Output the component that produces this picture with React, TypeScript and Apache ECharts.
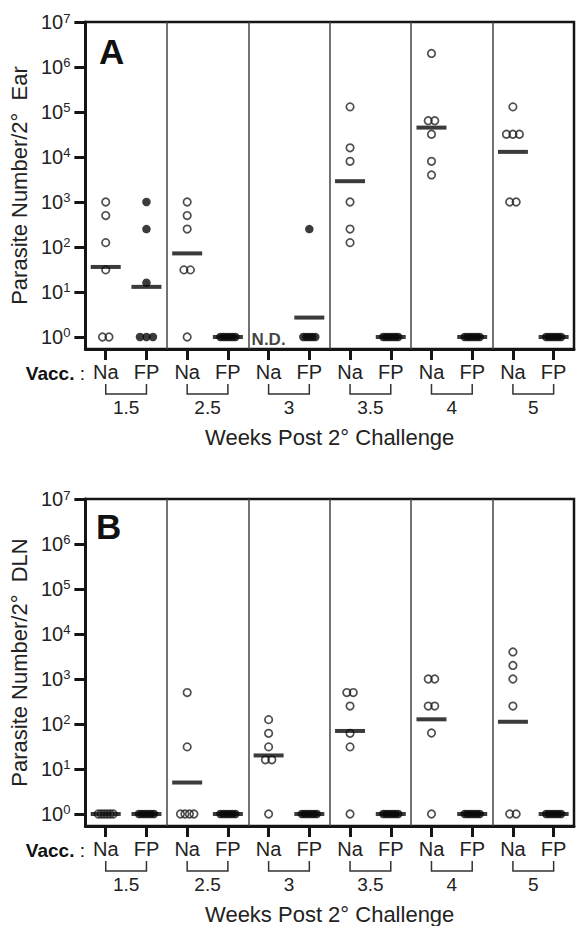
import React, { useEffect, useRef } from "react";
import * as echarts from "echarts";

// ---------- data ----------
const weeks = ["1.5", "2.5", "3", "3.5", "4", "5"];
const vaccLabels = ["Na", "FP"];
const yTickExponents = [0, 1, 2, 3, 4, 5, 6, 7];

// Panel A: parasite number per 2° ear (Na = naive, FP = vaccinated)
const earNa: number[][] = [
  [1000, 500, 125, 31, 1, 1],
  [1000, 500, 250, 31, 31, 1],
  [], // N.D.
  [130000, 16000, 8000, 1000, 250, 125],
  [2000000, 64000, 64000, 32000, 8000, 4000],
  [130000, 32000, 32000, 32000, 1000, 1000],
];
const earFP: number[][] = [
  [1000, 250, 16, 1, 1, 1],
  [1, 1, 1, 1, 1, 1],
  [250, 1, 1, 1, 1, 1],
  [1, 1, 1, 1, 1, 1],
  [1, 1, 1, 1, 1, 1],
  [1, 1, 1, 1, 1, 1],
];
const earNaMean: (number | null)[] = [36, 72, null, 2900, 45000, 13000];
const earFPMean: number[] = [13, 1, 2.7, 1, 1, 1];

// Panel B: parasite number per 2° DLN
const dlnNa: number[][] = [
  [1, 1, 1, 1, 1, 1],
  [500, 31, 1, 1, 1, 1],
  [125, 62, 31, 16, 16, 1],
  [500, 500, 250, 62, 31, 1],
  [1000, 1000, 250, 250, 63, 1],
  [4000, 2000, 1000, 250, 1, 1],
];
const dlnFP: number[][] = [
  [1, 1, 1, 1, 1, 1],
  [1, 1, 1, 1, 1, 1],
  [1, 1, 1, 1, 1, 1],
  [1, 1, 1, 1, 1, 1],
  [1, 1, 1, 1, 1, 1],
  [1, 1, 1, 1, 1, 1],
];
const dlnNaMean: number[] = [1, 5, 20, 70, 127, 112];
const dlnFPMean: number[] = [1, 1, 1, 1, 1, 1];

// ---------- layout / style ----------
const FONT = "'Liberation Sans', Arial, Helvetica, sans-serif";
const GRID_LEFT = 84;
const GRID_W = 490;
const GRID_H = 327;
const GRID_TOPS = [22, 499];
const Y_MIN = -0.267;
const Y_MAX = 7;
const PX_PER_UNIT = GRID_W / 12;
const INK = "#151515";

function spread(vals: number[], center: number): number[][] {
  const counts = new Map<number, number>();
  vals.forEach((v) => counts.set(v, (counts.get(v) || 0) + 1));
  const seen = new Map<number, number>();
  return vals.map((v) => {
    const n = counts.get(v)!;
    const k = seen.get(v) || 0;
    seen.set(v, k + 1);
    const step = n >= 5 ? 3 : n === 4 ? 4.5 : n > 1 ? 6.5 : 0;
    const off = (k - (n - 1) / 2) * step;
    return [center + off / PX_PER_UNIT, Math.log10(v)];
  });
}

function buildPanel(
  gi: number,
  na: number[][],
  fp: number[][],
  naMean: (number | null)[],
  fpMean: number[],
  yTitle: string,
  showND: boolean
) {
  const valAxis = gi * 2 + 1;
  const naPts: number[][] = [];
  const fpPts: number[][] = [];
  const means: number[][] = [];
  weeks.forEach((_, i) => {
    naPts.push(...spread(na[i], 2 * i + 0.5));
    fpPts.push(...spread(fp[i], 2 * i + 1.5));
    const nm = naMean[i];
    if (nm != null) means.push([2 * i + 0.5, Math.log10(nm)]);
    means.push([2 * i + 1.5, Math.log10(fpMean[i])]);
  });

  const xAxes = [
    {
      gridIndex: gi,
      type: "category",
      data: weeks.flatMap(() => vaccLabels),
      boundaryGap: true,
      position: "bottom",
      axisLine: { show: true, onZero: false, lineStyle: { color: INK, width: 3 } },
      axisTick: { show: true, alignWithLabel: true, length: 11, lineStyle: { color: INK, width: 3 } },
      axisLabel: { interval: 0, fontSize: 20, fontFamily: FONT, color: "#222", margin: 13 },
      splitLine: { show: false },
      name: "Weeks Post 2° Challenge",
      nameLocation: "middle",
      nameGap: 77,
      nameTextStyle: { fontSize: 22, fontFamily: FONT, color: "#222" },
      z: 1,
    },
    { gridIndex: gi, type: "value", min: 0, max: 12, show: false },
  ];

  const yAxis = {
    gridIndex: gi,
    type: "value",
    min: Y_MIN,
    max: Y_MAX,
    axisLine: { show: true, onZero: false, lineStyle: { color: INK, width: 3 } },
    axisTick: { show: true, customValues: yTickExponents, length: 11, lineStyle: { color: INK, width: 3 } },
    axisLabel: {
      customValues: yTickExponents,
      margin: 15,
      formatter: (v: number) => `{b|10}{s|${Math.round(v)}}`,
      rich: {
        b: { fontSize: 20, fontFamily: FONT, color: "#222", lineHeight: 21 },
        s: { fontSize: 13, fontFamily: FONT, color: "#222", lineHeight: 13, verticalAlign: "top" },
      },
    },
    splitLine: { show: false },
    name: yTitle,
    nameLocation: "middle",
    nameGap: 53,
    nameRotate: 90,
    nameTextStyle: { fontSize: 22, fontFamily: FONT, color: "#222" },
  };

  const series: any[] = [
    {
      type: "scatter",
      xAxisIndex: valAxis,
      yAxisIndex: gi,
      data: naPts,
      symbol: "circle",
      symbolSize: 7.5,
      itemStyle: { color: "rgba(0,0,0,0)", borderColor: "#222", borderWidth: 1.7 },
      z: 3,
      silent: true,
      markLine: {
        silent: true,
        symbol: ["none", "none"],
        label: { show: false },
        lineStyle: { color: "#444", width: 1.5, type: "solid" },
        data: [2, 4, 6, 8, 10].map((x) => ({ xAxis: x })),
      },
    },
    {
      type: "scatter",
      xAxisIndex: valAxis,
      yAxisIndex: gi,
      data: fpPts,
      symbol: "circle",
      symbolSize: 8.5,
      itemStyle: { color: "#0a0a0a" },
      z: 3,
      silent: true,
    },
    {
      type: "scatter",
      xAxisIndex: valAxis,
      yAxisIndex: gi,
      data: means,
      symbol: "rect",
      symbolSize: [30, 4],
      itemStyle: { color: "#0a0a0a" },
      z: 4,
      silent: true,
    },
    {
      type: "custom",
      xAxisIndex: valAxis,
      yAxisIndex: gi,
      clip: false,
      silent: true,
      data: weeks.map((_, i) => [2 * i + 1, Y_MIN]),
      renderItem: (params: any, api: any) => {
        const i = params.dataIndex;
        const p1 = api.coord([2 * i + 0.5, Y_MIN]);
        const p2 = api.coord([2 * i + 1.5, Y_MIN]);
        const yb = p1[1];
        return {
          type: "group",
          children: [
            {
              type: "polyline",
              shape: {
                points: [
                  [p1[0], yb + 35],
                  [p1[0], yb + 45],
                  [p2[0], yb + 45],
                  [p2[0], yb + 35],
                ],
              },
              style: { stroke: "#333", lineWidth: 1.5, fill: null },
            },
            {
              type: "text",
              style: {
                text: weeks[i],
                x: (p1[0] + p2[0]) / 2,
                y: yb + 58,
                align: "center",
                verticalAlign: "middle",
                fontSize: 19,
                fontFamily: FONT,
                fill: "#222",
              },
            },
          ],
        };
      },
    },
  ];

  if (showND) {
    series.push({
      type: "scatter",
      xAxisIndex: valAxis,
      yAxisIndex: gi,
      data: [[4.5, 0]],
      symbolSize: 1,
      itemStyle: { color: "rgba(0,0,0,0)" },
      silent: true,
      z: 5,
      label: {
        show: true,
        position: "inside",
        formatter: "N.D.",
        fontSize: 17,
        fontWeight: "bold",
        fontFamily: FONT,
        color: "#111",
        offset: [0, 3],
      },
    });
  }

  return { xAxes, yAxis, series };
}

export default function App() {
  const ref = useRef<HTMLDivElement>(null);
  useEffect(() => {
    document.body.style.margin = "0";
    if (!ref.current) return;
    const chart = echarts.init(ref.current, undefined, { renderer: "svg" });
    const pA = buildPanel(0, earNa, earFP, earNaMean, earFPMean, "Parasite Number/2°  Ear", true);
    const pB = buildPanel(1, dlnNa, dlnFP, dlnNaMean, dlnFPMean, "Parasite Number/2°  DLN", false);
    const vaccText = (y: number) => ({
      type: "text",
      x: 85,
      y,
      style: {
        text: "{b|Vacc.}{n| :}",
        align: "right",
        verticalAlign: "middle",
        rich: {
          b: { fontSize: 19, fontWeight: "bold", fontFamily: FONT, fill: "#111" },
          n: { fontSize: 19, fontFamily: FONT, fill: "#111" },
        },
      },
    });
    chart.setOption({
      animation: false,
      backgroundColor: "#fff",
      textStyle: { fontFamily: FONT },
      grid: GRID_TOPS.map((top) => ({
        left: GRID_LEFT,
        top,
        width: GRID_W,
        height: GRID_H,
        show: true,
        borderColor: INK,
        borderWidth: 2.5,
        backgroundColor: "transparent",
      })),
      xAxis: [...pA.xAxes, ...pB.xAxes],
      yAxis: [pA.yAxis, pB.yAxis],
      series: [...pA.series, ...pB.series],
      graphic: [
        {
          type: "text",
          x: 99,
          y: 51,
          style: { text: "A", fontSize: 35, fontWeight: "bold", fontFamily: FONT, fill: "#111", verticalAlign: "middle" },
        },
        {
          type: "text",
          x: 96,
          y: 526,
          style: { text: "B", fontSize: 35, fontWeight: "bold", fontFamily: FONT, fill: "#111", verticalAlign: "middle" },
        },
        vaccText(373),
        vaccText(850),
      ],
    });
    return () => chart.dispose();
  }, []);
  return <div ref={ref} style={{ width: 576, height: 926 }} />;
}
